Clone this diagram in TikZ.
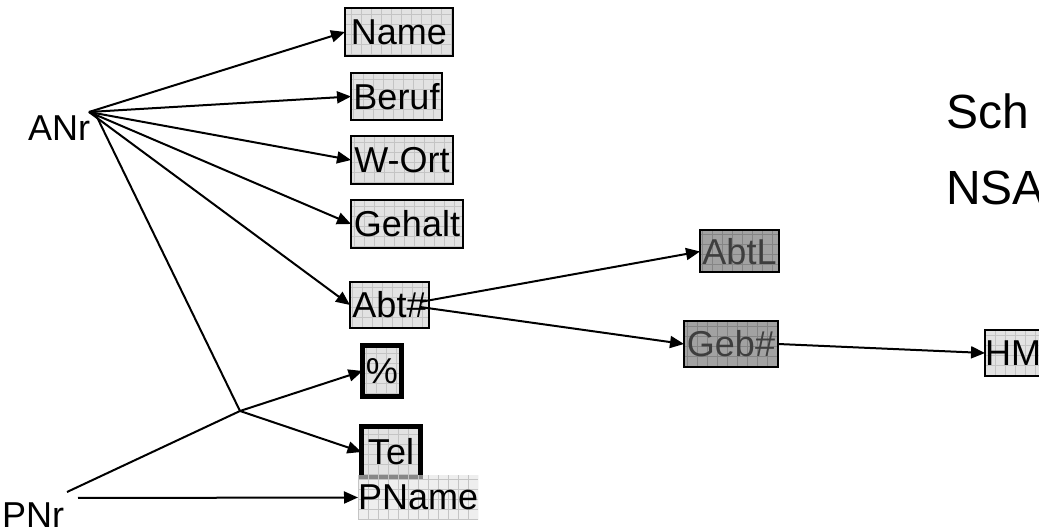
\documentclass[tikz,border=0pt]{standalone}
\usepackage{fontspec}
\setmainfont{Liberation Sans}
\usetikzlibrary{arrows.meta,calc}

\definecolor{boxlight}{HTML}{E2E2E2}
\definecolor{gridlight}{HTML}{C4C4C4}
\definecolor{boxdark}{HTML}{A2A2A2}
\definecolor{griddark}{HTML}{858585}
\definecolor{textdark}{HTML}{3E3E3E}

\begin{document}
\begin{tikzpicture}[x=0.5pt,y=-0.5pt,
  every node/.style={inner sep=0pt, outer sep=0pt},
  lbl/.style={font=\fontsize{18}{21}\selectfont},
  title/.style={font=\fontsize{24}{28}\selectfont, anchor=base west},
  gridfill/.style={path picture={\draw[#1,line width=0.4pt,step=5pt]
      (path picture bounding box.south west) grid (path picture bounding box.north east);}},
  attr/.style={lbl, draw=black, line width=1pt, fill=boxlight, text=black, gridfill=gridlight},
  keyattr/.style={attr, line width=2.5pt},
  derived/.style={lbl, draw=black, line width=1pt, fill=boxdark, text=textdark, gridfill=griddark},
  arr/.style={line width=1pt, -{Triangle[length=7pt,width=6pt]}},
  ln/.style={line width=1pt},
]
\useasboundingbox (0,0) rectangle (1039,528);
\clip (0,0) rectangle (1039,528);

% source keys
\node[lbl] (anr) at (59,128) {ANr};
\node[lbl] (pnr) at (33,515) {PNr};

% attributes of the ANr table
\node[attr, minimum width=54pt,   minimum height=24pt]   (name)   at (399,32)   {Name};
\node[attr, minimum width=45.5pt, minimum height=23.5pt] (beruf)  at (396.5,96.5) {Beruf};
\node[attr, minimum width=51pt,   minimum height=24pt]   (wort)   at (402,160)  {W-Ort};
\node[attr, minimum width=56pt,   minimum height=24pt]   (gehalt) at (407,224)  {Gehalt};
\node[attr, minimum width=39.5pt, minimum height=23pt]   (abt)    at (389.5,305) {Abt\#};

% attributes of the composite key
\node[keyattr, minimum width=19.5pt, minimum height=25.5pt] (pct) at (382,371) {\%};
\node[keyattr, minimum width=29.5pt, minimum height=25.5pt] (tel) at (391,452) {Tel};
\node[lbl, fill=boxlight, fill opacity=0.6, text opacity=1, gridfill=gridlight,
      minimum width=57pt, minimum height=22.5pt, anchor=west] (pname) at (358,497.5) {PName};

% transitively dependent attributes
\node[derived, minimum width=39.5pt, minimum height=21pt] (abtl) at (739.5,251.5) {AbtL};
\node[derived, minimum width=47pt,   minimum height=23pt] (geb)  at (731,344)    {Geb\#};
\node[attr, minimum width=40pt, minimum height=23pt, anchor=west] (hm) at (985,353) {HM\phantom{M}};

% heading
\node[title] (sch) at (946,129) {Sch};
\node[title] (nsa) at (946,205) {NSA};

% fan from ANr
\coordinate (af) at (89,112);
\coordinate (as) at (95,113);
\coordinate (jn) at (240,411);
\coordinate (ps) at (67,492);
\coordinate (ph) at (78,498);
\coordinate (ab1) at (420,302);
\coordinate (ab2) at (420,307);

\draw[arr] (af) -- (name.west);
\draw[arr] (af) -- (beruf.west);
\draw[arr] (af) -- (wort.west);
\draw[arr] (af) -- (gehalt.west);
\draw[arr] (af) -- (abt.west);
\draw[ln] (as) -- (jn);
\draw[arr] (jn) -- (tel.west);

% from PNr
\draw[ln] (ps) -- (jn);
\draw[arr] (jn) -- (pct.west);
\draw[arr] (ph) -- (pname.west);

% from Abt#
\draw[arr] (ab1) -- (abtl.west);
\draw[arr] (ab2) -- (geb.west);
\draw[arr] (geb.east) -- (hm.west);
\end{tikzpicture}
\end{document}
